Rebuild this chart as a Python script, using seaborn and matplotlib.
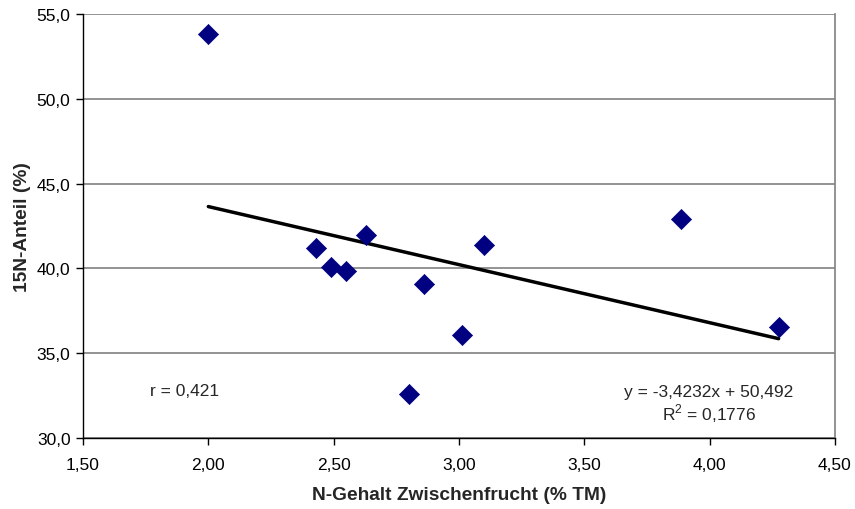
import matplotlib
matplotlib.use("Agg")
import matplotlib.pyplot as plt
import matplotlib.ticker as mticker
import seaborn as sns
import numpy as np
import pandas as pd

# Data
n_content = [2.00, 2.43, 2.49, 2.55, 2.63, 2.80, 2.86, 3.01, 3.10, 3.885, 4.275]
n15_share = [53.8, 41.2, 40.1, 39.85, 41.97, 32.6, 39.1, 36.07, 41.37, 42.92, 36.55]

slope = -3.4232
intercept = 50.492
r_text = "r = 0,421"
eq_text = "y = -3,4232x + 50,492"
r2_text = "R$^2$ = 0,1776"

x_ticks = [1.5, 2.0, 2.5, 3.0, 3.5, 4.0, 4.5]
y_ticks = [30, 35, 40, 45, 50, 55]

df = pd.DataFrame({"x": n_content, "y": n15_share})
x_line = [min(n_content), max(n_content)]
trend = pd.DataFrame({"x": x_line, "y": [slope * v + intercept for v in x_line]})

sns.set_style("white")
plt.rcParams["font.family"] = ["Liberation Sans", "DejaVu Sans"]
plt.rcParams["mathtext.fontset"] = "custom"
plt.rcParams["mathtext.rm"] = "Liberation Sans"

fig = plt.figure(figsize=(8.55, 5.10), dpi=100)
ax = fig.add_axes([83 / 855, 1 - 439 / 510, (835 - 83) / 855, (439 - 15) / 510])

sns.scatterplot(data=df, x="x", y="y", ax=ax, marker="D", s=105,
                color="#000080", edgecolor="#000080", linewidth=0.5, zorder=4)
sns.lineplot(data=trend, x="x", y="y", ax=ax, color="black", linewidth=2.5, zorder=3)

ax.set_xlim(1.5, 4.5)
ax.set_ylim(30, 55)
ax.set_xticks(x_ticks)
ax.set_yticks(y_ticks)
ax.xaxis.set_major_formatter(mticker.FuncFormatter(lambda v, p: f"{v:.2f}".replace(".", ",")))
ax.yaxis.set_major_formatter(mticker.FuncFormatter(lambda v, p: f"{v:.1f}".replace(".", ",")))

ax.yaxis.grid(True, color="#808080", linewidth=1.2)
ax.xaxis.grid(False)
ax.set_axisbelow(True)

for s in ["left", "bottom"]:
    ax.spines[s].set_color("black")
    ax.spines[s].set_linewidth(1.0)
ax.spines["top"].set_visible(False)
ax.spines["right"].set_color("#808080")
ax.spines["right"].set_linewidth(1.2)

ax.tick_params(axis="both", which="major", direction="out", length=5, width=1,
               color="black", labelsize=12.5, labelcolor="black", bottom=True, left=True)
ax.tick_params(axis="x", pad=9)
ax.tick_params(axis="y", pad=4)

ax.set_xlabel("N-Gehalt Zwischenfrucht (% TM)", fontsize=13.8, fontweight="bold", labelpad=10)
ax.set_ylabel("15N-Anteil (%)", fontsize=13.8, fontweight="bold", labelpad=4)

ax.text((150 - 83) / 752, 1 - (392 - 15) / 424, r_text, transform=ax.transAxes,
        fontsize=12.5, ha="left", va="center")
ax.text((709 - 83) / 752, 1 - (393 - 15) / 424, eq_text, transform=ax.transAxes,
        fontsize=12.5, ha="center", va="center")
ax.text((709 - 83) / 752, 1 - (414 - 15) / 424, r2_text, transform=ax.transAxes,
        fontsize=12.5, ha="center", va="center")

fig.savefig("out.png", dpi=100)
